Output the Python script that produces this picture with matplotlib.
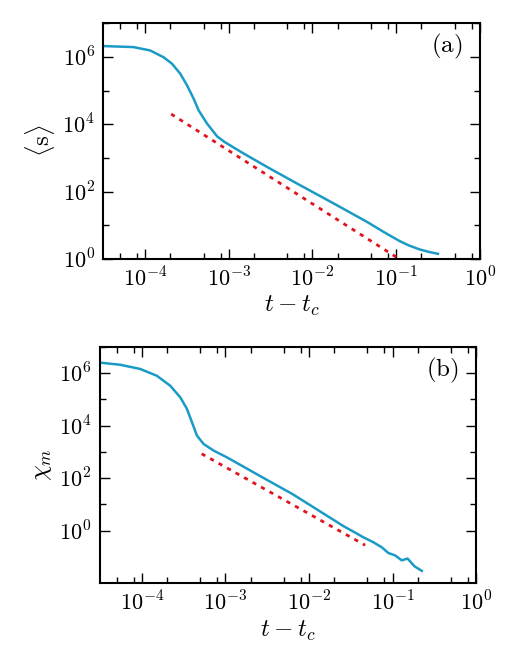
import numpy as np
import matplotlib
matplotlib.use("Agg")
import matplotlib.pyplot as plt
from matplotlib.ticker import LogLocator, FixedLocator, FuncFormatter, NullFormatter

plt.rcParams['mathtext.fontset'] = 'cm'
plt.rcParams['font.family'] = 'DejaVu Serif'

# panel (a): mean cluster size <s> vs t - tc (log10 values)
a_logx = [-4.5, -4.14, -3.94, -3.78, -3.68, -3.58, -3.50, -3.42, -3.36, -3.26,
          -3.14, -3.05, -2.95, -2.83, -2.69, -2.55, -2.15, -1.75, -1.35, -1.15,
          -0.96, -0.85, -0.72, -0.60, -0.50]
a_logy = [6.32, 6.29, 6.19, 5.99, 5.80, 5.50, 5.16, 4.76, 4.41, 4.02,
          3.64, 3.47, 3.32, 3.14, 2.94, 2.74, 2.19, 1.65, 1.10, 0.80,
          0.53, 0.40, 0.28, 0.20, 0.15]
a_fit_x = [2.05e-4, 0.105]
a_fit_y = [2.0e4, 1.05]

# panel (b): susceptibility chi_m vs t - tc
b_logx = [-4.5, -4.26, -4.02, -3.82, -3.66, -3.54, -3.46, -3.40, -3.34, -3.26,
          -3.14, -2.98, -2.79, -2.50, -2.20, -2.00, -1.80, -1.58, -1.46,
          -1.35, -1.23, -1.13, -1.05, -0.97, -0.89, -0.82, -0.74, -0.65]
b_logy = [6.40, 6.32, 6.16, 5.90, 5.52, 5.08, 4.64, 4.13, 3.62, 3.30,
          3.05, 2.79, 2.45, 1.93, 1.40, 1.00, 0.60, 0.16, -0.05,
          -0.25, -0.44, -0.63, -0.85, -0.94, -1.13, -1.06, -1.35, -1.53]
b_fit_x = [5.2e-4, 0.047]
b_fit_y = [8.5e2, 0.28]

blue = '#1a9bc6'
red = '#e0141e'

fig = plt.figure(figsize=(5.32, 6.62), dpi=100)
ax1 = fig.add_axes([0.194, 0.609, 0.708, 0.356])
ax2 = fig.add_axes([0.188, 0.119, 0.707, 0.357])

panels = [
    (ax1, a_logx, a_logy, a_fit_x, a_fit_y, r'$\langle \mathrm{s} \rangle$', r'$\mathrm{(a)}$', (1, 1e7)),
    (ax2, b_logx, b_logy, b_fit_x, b_fit_y, r'$\chi_m$', r'$\mathrm{(b)}$', (10**-2.0, 1e7)),
]

pow_fmt = FuncFormatter(lambda v, p: r'$10^{%d}$' % round(np.log10(v)))

for ax, lx, ly, fx, fy, ylab, tag, ylim in panels:
    ax.plot(10 ** np.array(lx), 10 ** np.array(ly), color=blue, lw=1.8)
    ax.plot(fx, fy, color=red, lw=2.0, linestyle=(0, (1.5, 2.0)))
    ax.set_xscale('log')
    ax.set_yscale('log')
    ax.set_xlim(10 ** -4.5, 1)
    ax.set_ylim(*ylim)
    ax.xaxis.set_major_locator(FixedLocator([1e-4, 1e-3, 1e-2, 1e-1, 1]))
    ax.xaxis.set_minor_locator(LogLocator(base=10, subs=(2, 5, 8), numticks=20))
    ax.xaxis.set_major_formatter(pow_fmt)
    ax.xaxis.set_minor_formatter(NullFormatter())
    ax.yaxis.set_major_locator(FixedLocator([1, 1e2, 1e4, 1e6]))
    ax.yaxis.set_minor_locator(FixedLocator([1e1, 1e3, 1e5, 1e7]))
    ax.yaxis.set_major_formatter(pow_fmt)
    ax.yaxis.set_minor_formatter(NullFormatter())
    ax.tick_params(which='both', direction='in', top=True, right=True, labelsize=16, width=1.0)
    ax.tick_params(which='major', length=7, pad=6)
    ax.tick_params(which='minor', length=4)
    for sp in ax.spines.values():
        sp.set_linewidth(1.5)
    ax.set_xlabel(r'$t-t_c$', fontsize=18, labelpad=2)
    ax.set_ylabel(ylab, fontsize=18, labelpad=4)
    ax.text(0.955, 0.90, tag, transform=ax.transAxes, ha='right', va='center', fontsize=18)

fig.savefig('out.png', dpi=100)
